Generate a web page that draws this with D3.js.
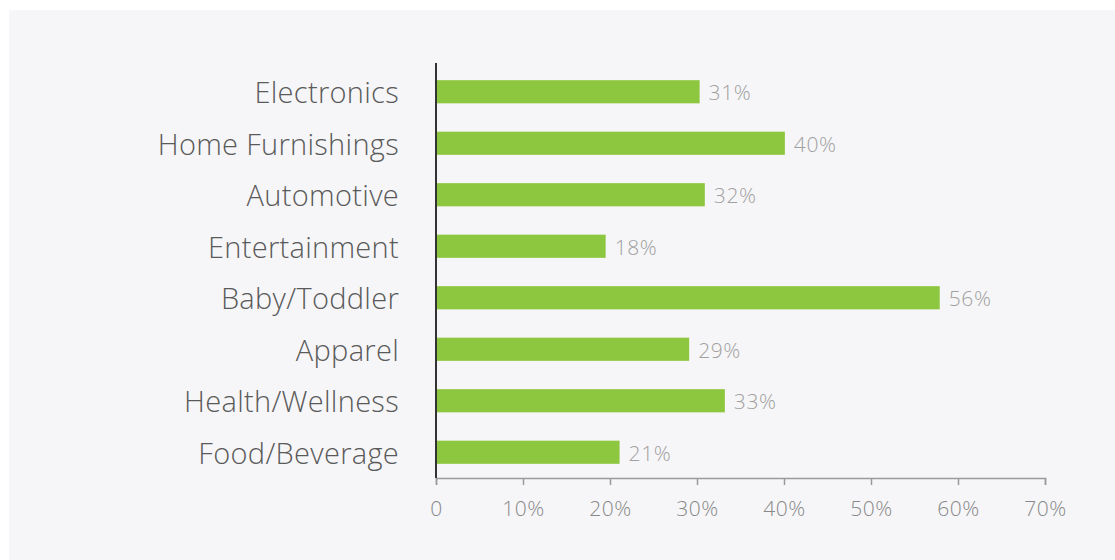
<!DOCTYPE html>
<html>
<head>
<meta charset="utf-8">
<script src="https://cdn.jsdelivr.net/npm/d3@7/dist/d3.min.js"></script>
<style>
  html, body { margin: 0; padding: 0; background: #fff; }
  svg { display: block; }
</style>
</head>
<body>
<div id="chart"></div>
<script>
const categories = ['Electronics', 'Home Furnishings', 'Automotive', 'Entertainment',
  'Baby/Toddler', 'Apparel', 'Health/Wellness', 'Food/Beverage'];
// bar lengths as drawn in the picture
const values = [30.3, 40.1, 30.9, 19.5, 57.9, 29.1, 33.2, 21.1];
// value labels printed next to the bars
const valueLabels = ['31%', '40%', '32%', '18%', '56%', '29%', '33%', '21%'];
const xTicks = [0, 10, 20, 30, 40, 50, 60, 70];

const width = 1115, height = 560;
const fontFamily = "'Open Sans', 'Noto Sans', sans-serif";

const svg = d3.select('#chart').append('svg')
  .attr('width', width)
  .attr('height', height);

// light panel
svg.append('rect')
  .attr('x', 9).attr('y', 10)
  .attr('width', width - 9).attr('height', height - 10)
  .attr('fill', '#f6f6f8');

const x = d3.scaleLinear().domain([0, 70]).range([436, 1045]);
const y = d3.scaleBand().domain(categories).range([66, 478])
  .paddingInner(0.55).paddingOuter(0.275);

// bars
svg.append('g')
  .selectAll('rect')
  .data(values)
  .enter()
  .append('rect')
  .attr('x', x(0))
  .attr('y', (d, i) => y(categories[i]))
  .attr('width', d => x(d) - x(0))
  .attr('height', y.bandwidth())
  .attr('fill', '#8dc63f');

// value labels
svg.append('g')
  .selectAll('text')
  .data(values)
  .enter()
  .append('text')
  .attr('x', d => x(d) + 9)
  .attr('y', (d, i) => y(categories[i]) + y.bandwidth() / 2)
  .attr('dy', '0.4em')
  .style('font-family', fontFamily)
  .style('font-size', '21px')
  .style('font-weight', 300)
  .style('letter-spacing', '0.6px')
  .attr('fill', '#a0a0a0')
  .text((d, i) => valueLabels[i]);

// category labels
svg.append('g')
  .selectAll('text')
  .data(categories)
  .enter()
  .append('text')
  .attr('x', 399)
  .attr('y', d => y(d) + y.bandwidth() / 2)
  .attr('dy', '0.4em')
  .attr('text-anchor', 'end')
  .style('font-family', fontFamily)
  .style('font-size', '29px')
  .style('font-weight', 300)
  .style('letter-spacing', '0.3px')
  .attr('fill', '#5a5a5a')
  .text(d => d);

// x axis
const xAxis = svg.append('g')
  .attr('transform', 'translate(0,478)')
  .call(d3.axisBottom(x).tickValues(xTicks).tickSize(7).tickPadding(16)
    .tickFormat(d => d === 0 ? '0' : d + '%'));
xAxis.select('.domain').attr('stroke', '#9a9a9a').attr('stroke-width', 1.5);
xAxis.selectAll('.tick line').attr('stroke', '#9a9a9a').attr('stroke-width', 1.5);
xAxis.selectAll('.tick text')
  .style('font-family', fontFamily)
  .style('font-size', '21px')
  .style('font-weight', 300)
  .style('letter-spacing', '0.5px')
  .attr('fill', '#888');

// y axis line
svg.append('line')
  .attr('x1', x(0)).attr('x2', x(0))
  .attr('y1', 63).attr('y2', 478)
  .attr('stroke', '#333')
  .attr('stroke-width', 2);
</script>
</body>
</html>
